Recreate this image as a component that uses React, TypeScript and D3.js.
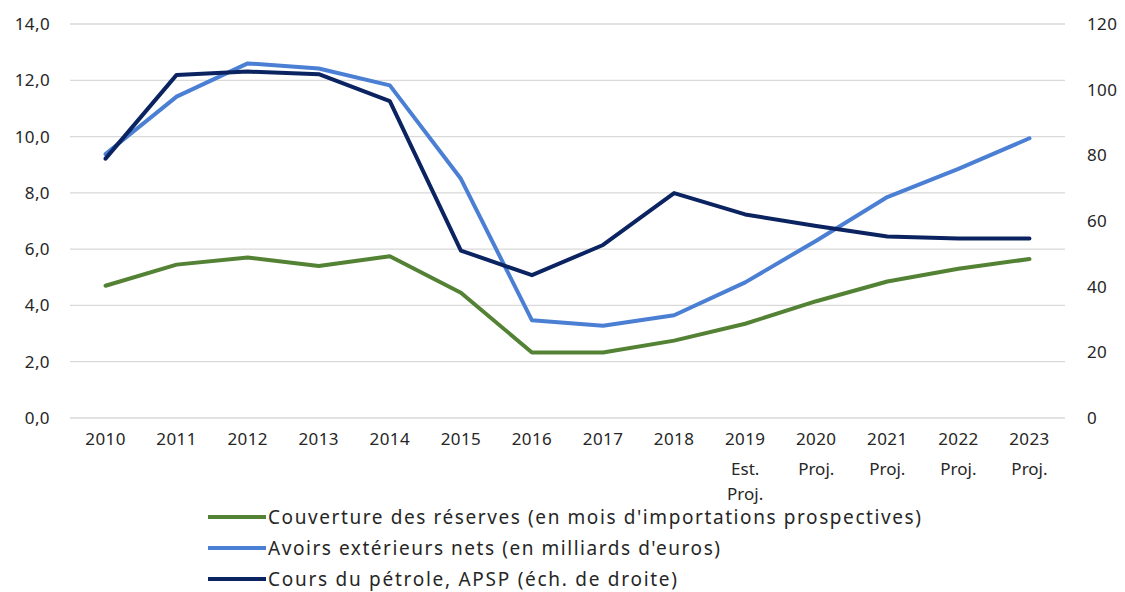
import { useMemo } from "react";
import * as d3 from "d3";

const WIDTH = 1125;
const HEIGHT = 592;
const MARGIN = { top: 24, right: 60, bottom: 174, left: 70 };

const years = ["2010", "2011", "2012", "2013", "2014", "2015", "2016", "2017", "2018", "2019", "2020", "2021", "2022", "2023"];
const subLabels = [[], [], [], [], [], [], [], [], [], ["Est.", "Proj."], ["Proj."], ["Proj."], ["Proj."], ["Proj."]];

// left axis
const reserves = [4.7, 5.45, 5.7, 5.4, 5.75, 4.45, 2.33, 2.33, 2.75, 3.35, 4.15, 4.85, 5.3, 5.65];
const netAssets = [9.38, 11.42, 12.6, 12.42, 11.82, 8.5, 3.47, 3.28, 3.65, 4.82, 6.3, 7.85, 8.85, 9.94];
// right axis
const oilPrice = [79, 104.5, 105.5, 104.7, 96.5, 51, 43.5, 52.7, 68.5, 62, 58.5, 55.3, 54.7, 54.7];

const leftTicks = [0, 2, 4, 6, 8, 10, 12, 14];
const rightTicks = [0, 20, 40, 60, 80, 100, 120];

const legend = [
  { label: "Couverture des réserves (en mois d'importations prospectives)", color: "#548235", len: 653 },
  { label: "Avoirs extérieurs nets (en milliards d'euros)", color: "#4a7fd4", len: 452 },
  { label: "Cours du pétrole, APSP (éch. de droite)", color: "#0b2461", len: 409 },
];

const FONT = "'Noto Sans', 'Open Sans', sans-serif";
const TEXT = "#262626";
const TICK_SIZE = 17;

export default function App() {
  const innerW = WIDTH - MARGIN.left - MARGIN.right;
  const innerH = HEIGHT - MARGIN.top - MARGIN.bottom;

  const x = useMemo(() => d3.scaleBand().domain(years).range([0, innerW]), [innerW]);
  const yLeft = useMemo(() => d3.scaleLinear().domain([0, 14]).range([innerH, 0]), [innerH]);
  const yRight = useMemo(() => d3.scaleLinear().domain([0, 120]).range([innerH, 0]), [innerH]);

  const cx = (i: number) => (x(years[i]) || 0) + x.bandwidth() / 2;

  const leftLine = d3.line<number>().x((_, i) => cx(i)).y((d) => yLeft(d));
  const rightLine = d3.line<number>().x((_, i) => cx(i)).y((d) => yRight(d));

  const series = [
    { d: leftLine(reserves), color: legend[0].color },
    { d: leftLine(netAssets), color: legend[1].color },
    { d: rightLine(oilPrice), color: legend[2].color },
  ];

  return (
    <svg
      width={WIDTH}
      height={HEIGHT}
      style={{ position: "absolute", left: 0, top: 0, background: "#fff" }}
      fontFamily={FONT}
    >
      <g transform={`translate(${MARGIN.left},${MARGIN.top})`}>
        {leftTicks.map((t) => (
          <line key={t} x1={0} x2={innerW} y1={yLeft(t)} y2={yLeft(t)} stroke="#d9d9d9" strokeWidth={1.3} />
        ))}
        {leftTicks.map((t) => (
          <text key={"l" + t} x={-20} y={yLeft(t)} dy="0.35em" textAnchor="end" fontSize={TICK_SIZE} letterSpacing={0.4} fill={TEXT}>
            {t.toFixed(1).replace(".", ",")}
          </text>
        ))}
        {rightTicks.map((t) => (
          <text key={"r" + t} x={innerW + 22} y={yRight(t)} dy="0.35em" textAnchor="start" fontSize={TICK_SIZE} letterSpacing={0.4} fill={TEXT}>
            {t}
          </text>
        ))}
        {years.map((yr, i) => (
          <g key={yr} transform={`translate(${cx(i)},${innerH})`}>
            <text y={27} textAnchor="middle" fontSize={TICK_SIZE} letterSpacing={0.4} fill={TEXT}>{yr}</text>
            {subLabels[i].map((s, j) => (
              <text key={j} y={57 + j * 25} textAnchor="middle" fontSize={TICK_SIZE} fill={TEXT}>{s}</text>
            ))}
          </g>
        ))}
        {series.map((s, i) => (
          <path key={i} d={s.d || ""} fill="none" stroke={s.color} strokeWidth={4} strokeLinejoin="round" strokeLinecap="round" />
        ))}
      </g>
      <g transform="translate(208,517)">
        {legend.map((l, i) => (
          <g key={l.label} transform={`translate(0,${i * 31})`}>
            <line x1={0} x2={58} y1={0} y2={0} stroke={l.color} strokeWidth={4} />
            <text x={60} y={0} dy="0.35em" fontSize={19} textLength={l.len} lengthAdjust="spacing" fill={TEXT}>{l.label}</text>
          </g>
        ))}
      </g>
    </svg>
  );
}
